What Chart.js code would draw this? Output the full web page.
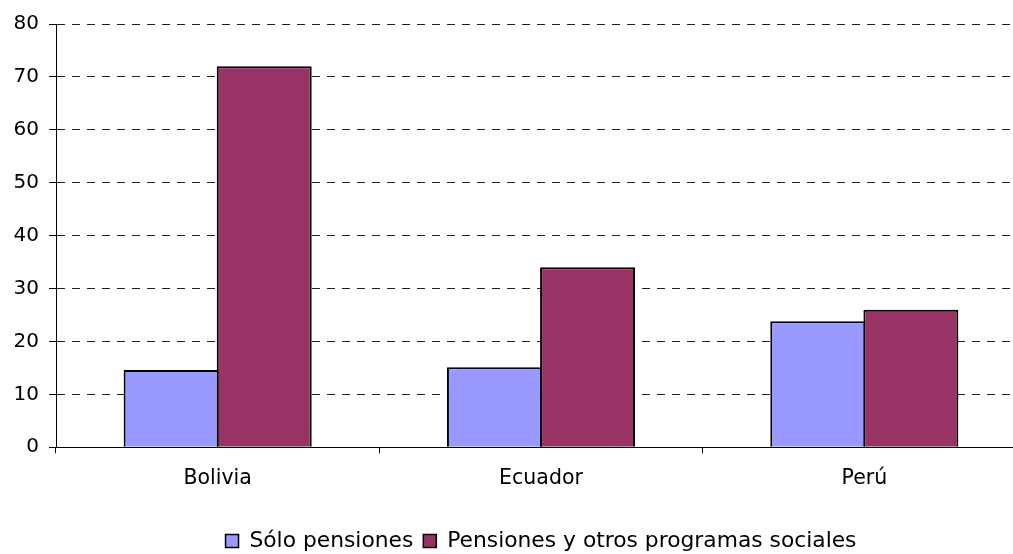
<!DOCTYPE html>
<html>
<head>
<meta charset="utf-8">
<script src="https://cdn.jsdelivr.net/npm/chart.js@4/dist/chart.umd.min.js"></script>
<style>
  html, body { margin: 0; padding: 0; background: #fff; overflow: hidden; }
  #wrap { width: 1013px; height: 554px; overflow: hidden; position: relative; }
  canvas { display: block; }
</style>
</head>
<body>
<div id="wrap"><canvas id="c" width="1082" height="554"></canvas></div>
<script>
const categories = ['Bolivia', 'Ecuador', 'Perú'];
const seriesNames = ['Sólo pensiones', 'Pensiones y otros programas sociales'];
const soloPensiones = [14.6, 15.1, 23.8];
const pensionesOtros = [72.0, 34.0, 26.0];
const yTicks = [0, 10, 20, 30, 40, 50, 60, 70, 80];

const FONT = "'DejaVu Sans', Verdana, sans-serif";

const ctx = document.getElementById('c').getContext('2d');
new Chart(ctx, {
  type: 'bar',
  data: {
    labels: categories,
    datasets: [
      {
        label: seriesNames[0],
        data: soloPensiones,
        backgroundColor: '#9999FF',
        borderColor: '#000000',
        borderWidth: 2,
        categoryPercentage: 0.576,
        barPercentage: 1.02,
        yAxisID: 'y'
      },
      {
        label: seriesNames[1],
        data: pensionesOtros,
        backgroundColor: '#993366',
        borderColor: '#000000',
        borderWidth: 2,
        categoryPercentage: 0.576,
        barPercentage: 1.02,
        yAxisID: 'y'
      }
    ]
  },
  options: {
    responsive: false,
    devicePixelRatio: 1,
    animation: false,
    layout: { padding: { left: 0, right: 0, top: 24, bottom: -8 } },
    plugins: {
      tooltip: { enabled: false },
      title: { display: false },
      legend: {
        position: 'bottom',
        labels: {
          font: { family: FONT, size: 21.8 },
          color: '#000',
          boxWidth: 13,
          boxHeight: 13,
          padding: 10,
          generateLabels: (chart) => {
            const items = Chart.defaults.plugins.legend.labels.generateLabels(chart);
            items.forEach(it => { it.lineWidth = 1.5; it.strokeStyle = '#000'; });
            return items;
          }
        }
      }
    },
    scales: {
      x: {
        offset: true,
        border: { display: true, color: '#000', width: 1 },
        grid: {
          offset: true,
          drawOnChartArea: false,
          drawTicks: true,
          tickLength: 6,
          tickColor: '#000',
          tickWidth: 1
        },
        ticks: {
          font: { family: FONT, size: 20.5 },
          color: '#000',
          padding: 13
        },
        afterFit: (s) => { s.height = 73; }
      },
      y: {
        min: 0,
        max: 80,
        afterBuildTicks: (s) => { s.ticks = yTicks.map(v => ({ value: v })); },
        border: { display: true, color: '#000', width: 1, dash: [8, 7] },
        grid: {
          color: '#222',
          lineWidth: 1,
          tickLength: 7,
          tickColor: '#000',
          tickBorderDash: [],
          drawTicks: true
        },
        ticks: {
          font: { family: FONT, size: 20 },
          color: '#000',
          padding: 10
        },
        afterFit: (s) => { s.width = 56; }
      },
      yRight: {
        position: 'right',
        display: true,
        min: 0,
        max: 80,
        grid: { display: false, drawTicks: false },
        border: { display: false },
        ticks: { display: false },
        afterFit: (s) => { s.width = 56; }
      }
    }
  }
});
</script>
</body>
</html>
